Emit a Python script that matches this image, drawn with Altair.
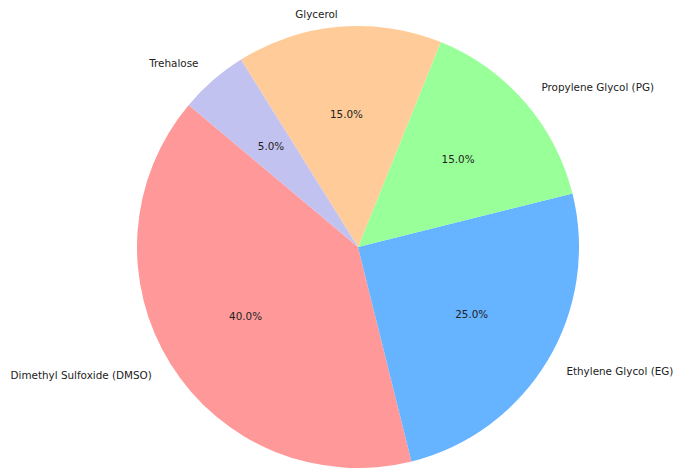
import math
import altair as alt
import pandas as pd

labels = ["Dimethyl Sulfoxide (DMSO)", "Ethylene Glycol (EG)", "Propylene Glycol (PG)", "Glycerol", "Trehalose"]
sizes = [40, 25, 15, 15, 5]
colors = ["#ff9999", "#66b3ff", "#99ff99", "#ffcc99", "#c2c2f0"]

df = pd.DataFrame({"label": labels, "size": sizes, "k": list(range(len(labels)))})

START_DEG = -50.0  # matplotlib startangle=140, counter-clockwise
start = math.radians(START_DEG)
R = 221

base = alt.Chart(df).transform_joinaggregate(
    total="sum(size)"
).transform_window(
    cum="sum(size)", sort=[alt.SortField("k", order="descending")], frame=[None, 0]
).transform_calculate(
    ang=f"({START_DEG} + 360*(datum.cum - datum.size/2)/datum.total)*PI/180",
    pct="format(100*datum.size/datum.total, '.1f') + '%'",
).encode(
    theta=alt.Theta("size:Q", stack=True, scale=alt.Scale(range=[start, start + 2 * math.pi])),
    order=alt.Order("k:Q", sort="descending"),
)

pie = base.mark_arc(outerRadius=R, stroke=None).encode(
    color=alt.Color("label:N", scale=alt.Scale(domain=labels, range=colors), legend=None)
)

font = "DejaVu Sans"
fs = 10.4
txt = dict(baseline="middle", fontSize=fs, font=font, color="#222")
right_lbl = base.mark_text(radius=R * 1.1, align="left", **txt).encode(
    text=alt.condition("sin(datum.ang) > 0 && cos(datum.ang) <= 0.95", alt.Text("label:N"), alt.value(""))
)
left_lbl = base.mark_text(radius=R * 1.1, align="right", **txt).encode(
    text=alt.condition("sin(datum.ang) <= 0 && cos(datum.ang) <= 0.95", alt.Text("label:N"), alt.value(""))
)
top_lbl = base.mark_text(radius=R * 1.055, align="right", **txt).encode(
    text=alt.condition("cos(datum.ang) > 0.95", alt.Text("label:N"), alt.value(""))
)
pct = base.mark_text(radius=R * 0.6, align="center", **txt).encode(
    text="pct:N"
)

chart = alt.layer(pie, right_lbl, left_lbl, top_lbl, pct).properties(
    width=630,
    height=442,
    autosize=alt.AutoSizeParams(type="none"),
    padding={"left": 35, "top": 18, "right": 4, "bottom": 0},
).configure_view(stroke=None)

chart.save("out.html", embed_options={"renderer": "svg", "actions": False})
